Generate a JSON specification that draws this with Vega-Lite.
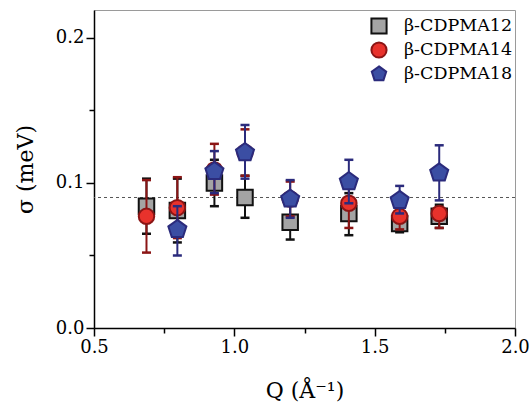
{
  "$schema": "https://vega.github.io/schema/vega-lite/v6.json",
  "width": 421,
  "height": 318,
  "autosize": "none",
  "padding": {"left": 94, "top": 10, "right": 17, "bottom": 82},
  "config": {
    "font": "DejaVu Serif",
    "view": {"stroke": "#9a9a9a", "strokeWidth": 1},
    "axis": {
      "grid": false,
      "labelFlush": false,
      "domainColor": "#000000",
      "domainWidth": 1.5,
      "tickColor": "#000000",
      "tickWidth": 1.5,
      "labelColor": "#000000",
      "labelFont": "DejaVu Serif",
      "labelFontSize": 18,
      "titleFont": "DejaVu Serif",
      "titleFontSize": 22,
      "titleFontWeight": "normal",
      "titleColor": "#000000"
    },
    "legend": {
      "labelFont": "DejaVu Serif",
      "labelFontSize": 17.5,
      "labelColor": "#000000"
    }
  },
  "data": {
    "values": [
      {"series": "β-CDPMA12", "q": 0.687, "sigma": 0.084, "lo": 0.065, "hi": 0.103},
      {"series": "β-CDPMA12", "q": 0.797, "sigma": 0.081, "lo": 0.059, "hi": 0.103},
      {"series": "β-CDPMA12", "q": 0.929, "sigma": 0.100, "lo": 0.084, "hi": 0.116},
      {"series": "β-CDPMA12", "q": 1.038, "sigma": 0.090, "lo": 0.076, "hi": 0.105},
      {"series": "β-CDPMA12", "q": 1.199, "sigma": 0.073, "lo": 0.061, "hi": 0.085},
      {"series": "β-CDPMA12", "q": 1.408, "sigma": 0.079, "lo": 0.064, "hi": 0.093},
      {"series": "β-CDPMA12", "q": 1.589, "sigma": 0.072, "lo": 0.066, "hi": 0.078},
      {"series": "β-CDPMA12", "q": 1.730, "sigma": 0.077, "lo": 0.069, "hi": 0.085},
      {"series": "β-CDPMA14", "q": 0.687, "sigma": 0.077, "lo": 0.052, "hi": 0.102},
      {"series": "β-CDPMA14", "q": 0.797, "sigma": 0.083, "lo": 0.062, "hi": 0.104},
      {"series": "β-CDPMA14", "q": 0.929, "sigma": 0.109, "lo": 0.092, "hi": 0.127},
      {"series": "β-CDPMA14", "q": 1.038, "sigma": 0.121, "lo": 0.105, "hi": 0.137},
      {"series": "β-CDPMA14", "q": 1.199, "sigma": 0.089, "lo": 0.077, "hi": 0.101},
      {"series": "β-CDPMA14", "q": 1.408, "sigma": 0.086, "lo": 0.069, "hi": 0.101},
      {"series": "β-CDPMA14", "q": 1.589, "sigma": 0.077, "lo": 0.068, "hi": 0.085},
      {"series": "β-CDPMA14", "q": 1.730, "sigma": 0.079, "lo": 0.069, "hi": 0.083},
      {"series": "β-CDPMA18", "q": 0.797, "sigma": 0.068, "lo": 0.050, "hi": 0.084},
      {"series": "β-CDPMA18", "q": 0.929, "sigma": 0.108, "lo": 0.093, "hi": 0.122},
      {"series": "β-CDPMA18", "q": 1.038, "sigma": 0.121, "lo": 0.103, "hi": 0.140},
      {"series": "β-CDPMA18", "q": 1.199, "sigma": 0.089, "lo": 0.076, "hi": 0.102},
      {"series": "β-CDPMA18", "q": 1.408, "sigma": 0.101, "lo": 0.086, "hi": 0.116},
      {"series": "β-CDPMA18", "q": 1.589, "sigma": 0.088, "lo": 0.079, "hi": 0.098},
      {"series": "β-CDPMA18", "q": 1.730, "sigma": 0.107, "lo": 0.088, "hi": 0.126}
    ]
  },
  "encoding": {
    "x": {
      "field": "q", "type": "quantitative",
      "scale": {"domain": [0.5, 2.0], "nice": false, "zero": false, "padding": 0},
      "axis": {
        "title": "Q (Å⁻¹)",
        "values": [0.5, 0.75, 1.0, 1.25, 1.5, 1.75, 2.0],
        "format": ".1f",
        "labelExpr": "abs(datum.value*2 - round(datum.value*2)) < 0.001 ? datum.label : ''",
        "tickSize": {"condition": {"test": "abs(datum.value*2 - round(datum.value*2)) < 0.001", "value": 8}, "value": 5},
        "labelPadding": 2,
        "titlePadding": 24
      }
    },
    "y": {
      "type": "quantitative",
      "scale": {"domain": [0, 0.2193], "nice": false, "padding": 0},
      "axis": {
        "title": "σ (meV)",
        "values": [0, 0.05, 0.1, 0.15, 0.2],
        "format": ".1f",
        "labelExpr": "abs(datum.value*10 - round(datum.value*10)) < 0.001 ? datum.label : ''",
        "tickSize": {"condition": {"test": "abs(datum.value*10 - round(datum.value*10)) < 0.001", "value": 8}, "value": 5},
        "labelPadding": 2,
        "titlePadding": 18
      }
    }
  },
  "layer": [
    {
      "data": {"values": [{"ref": 0.09}]},
      "mark": {"type": "rule", "strokeDash": [3, 3], "color": "#555555", "strokeWidth": 1},
      "encoding": {"y": {"field": "ref", "type": "quantitative"}, "x": null}
    },
    {
      "transform": [{"filter": "datum.series === 'β-CDPMA12'"}],
      "layer": [
        {"mark": {"type": "rule", "color": "#111111", "strokeWidth": 2}, "encoding": {"y": {"field": "lo"}, "y2": {"field": "hi"}}},
        {"mark": {"type": "tick", "orient": "horizontal", "color": "#111111", "opacity": 1, "size": 9, "thickness": 2.5}, "encoding": {"y": {"field": "lo"}}},
        {"mark": {"type": "tick", "orient": "horizontal", "color": "#111111", "opacity": 1, "size": 9, "thickness": 2.5}, "encoding": {"y": {"field": "hi"}}},
        {
          "mark": {"type": "point", "filled": true, "size": 240, "strokeWidth": 2, "opacity": 1},
          "encoding": {
            "y": {"field": "sigma"},
            "fill": {"field": "series", "type": "nominal", "scale": {"domain": ["β-CDPMA12", "β-CDPMA14", "β-CDPMA18"], "range": ["#a4a4a4", "#e8322c", "#3b4ea3"]}, "legend": {"title": null, "orient": "none", "legendX": 276, "legendY": 7, "symbolSize": 230, "symbolStrokeWidth": 2, "rowPadding": 0, "labelOffset": 16}},
            "stroke": {"field": "series", "type": "nominal", "scale": {"domain": ["β-CDPMA12", "β-CDPMA14", "β-CDPMA18"], "range": ["#111111", "#8b1515", "#2b2b7c"]}, "legend": {"title": null, "orient": "none", "legendX": 276, "legendY": 7, "symbolSize": 230, "symbolStrokeWidth": 2, "rowPadding": 0, "labelOffset": 16}},
            "shape": {"field": "series", "type": "nominal", "scale": {"domain": ["β-CDPMA12", "β-CDPMA14", "β-CDPMA18"], "range": ["square", "circle", "M0,-1L0.951,-0.309L0.588,0.809L-0.588,0.809L-0.951,-0.309Z"]}, "legend": {"title": null, "orient": "none", "legendX": 276, "legendY": 7, "symbolSize": 230, "symbolStrokeWidth": 2, "rowPadding": 0, "labelOffset": 16}}
          }
        }
      ]
    },
    {
      "transform": [{"filter": "datum.series === 'β-CDPMA14'"}],
      "layer": [
        {"mark": {"type": "rule", "color": "#8b1515", "strokeWidth": 2}, "encoding": {"y": {"field": "lo"}, "y2": {"field": "hi"}}},
        {"mark": {"type": "tick", "orient": "horizontal", "color": "#8b1515", "opacity": 1, "size": 9, "thickness": 2.5}, "encoding": {"y": {"field": "lo"}}},
        {"mark": {"type": "tick", "orient": "horizontal", "color": "#8b1515", "opacity": 1, "size": 9, "thickness": 2.5}, "encoding": {"y": {"field": "hi"}}},
        {
          "mark": {"type": "point", "filled": true, "size": 240, "strokeWidth": 2, "opacity": 1},
          "encoding": {
            "y": {"field": "sigma"},
            "fill": {"field": "series", "type": "nominal"},
            "stroke": {"field": "series", "type": "nominal"},
            "shape": {"field": "series", "type": "nominal"}
          }
        }
      ]
    },
    {
      "transform": [{"filter": "datum.series === 'β-CDPMA18'"}],
      "layer": [
        {"mark": {"type": "rule", "color": "#2b2b7c", "strokeWidth": 2}, "encoding": {"y": {"field": "lo"}, "y2": {"field": "hi"}}},
        {"mark": {"type": "tick", "orient": "horizontal", "color": "#2b2b7c", "opacity": 1, "size": 9, "thickness": 2.5}, "encoding": {"y": {"field": "lo"}}},
        {"mark": {"type": "tick", "orient": "horizontal", "color": "#2b2b7c", "opacity": 1, "size": 9, "thickness": 2.5}, "encoding": {"y": {"field": "hi"}}},
        {
          "mark": {"type": "point", "filled": true, "size": 360, "strokeWidth": 2, "opacity": 1},
          "encoding": {
            "y": {"field": "sigma"},
            "fill": {"field": "series", "type": "nominal"},
            "stroke": {"field": "series", "type": "nominal"},
            "shape": {"field": "series", "type": "nominal"}
          }
        }
      ]
    }
  ]
}
